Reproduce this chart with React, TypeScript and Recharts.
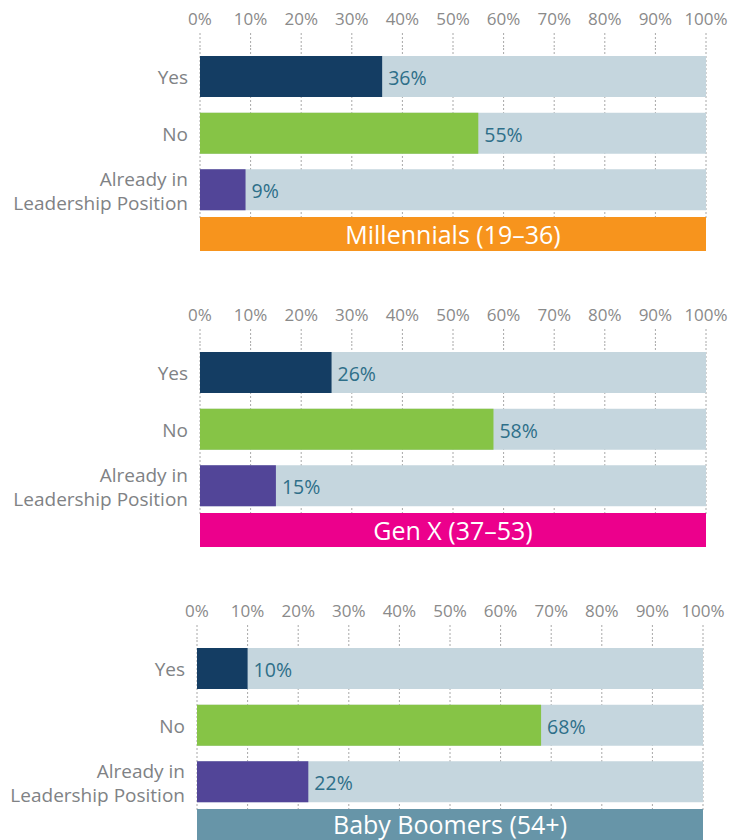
import { BarChart, Bar, XAxis, YAxis, CartesianGrid, Cell, LabelList } from 'recharts';

const categories = ['Yes', 'No', 'Already in\nLeadership Position'];
const millennials = [36, 55, 9];
const genX = [26, 58, 15];
const babyBoomers = [10, 68, 22];
const percentTicks = [0, 10, 20, 30, 40, 50, 60, 70, 80, 90, 100];
const groupTitles = ['Millennials (19–36)', 'Gen X (37–53)', 'Baby Boomers (54+)'];

const barColors = ['#143d63', '#86c446', '#524598'];
const FONT = '"Open Sans", "Noto Sans", sans-serif';
const AXIS_H = 50;
const PLOT_H = 170;

function CategoryTick(props: any) {
  const { x, y, payload } = props;
  const lines = String(payload.value).split('\n');
  const lineH = 24;
  const start = -((lines.length - 1) * lineH) / 2 + 1;
  return (
    <text x={x} y={y} textAnchor="end" fill="#808285" fontSize={19} fontFamily={FONT}>
      {lines.map((l, i) => (
        <tspan key={i} x={x} dy={i === 0 ? start : lineH} dominantBaseline="central">
          {l}
        </tspan>
      ))}
    </text>
  );
}

function ValueLabel(props: any) {
  const { x, y, width, height, value } = props;
  return (
    <text
      x={x + width + 6}
      y={y + height / 2 + 1}
      fill="#2e6f89"
      fontSize={19.5}
      fontFamily={FONT}
      dominantBaseline="central"
    >
      {value}%
    </text>
  );
}

type PanelProps = {
  values: number[];
  title: string;
  bannerColor: string;
  barTop: number;
  left: number;
  right: number;
  bannerTop: number;
  bannerH: number;
};

function Panel({ values, title, bannerColor, barTop, left, right, bannerTop, bannerH }: PanelProps) {
  const data = categories.map((c, i) => ({ name: c, value: values[i] }));
  const chartTop = barTop - 7.8 - AXIS_H;
  return (
    <>
      <div style={{ position: 'absolute', top: chartTop, left: 0 }}>
        <BarChart
          width={729}
          height={AXIS_H + PLOT_H}
          data={data}
          layout="vertical"
          margin={{ top: 0, right: 729 - right, left: 0, bottom: 0 }}
          barSize={41}
        >
          <CartesianGrid horizontal={false} stroke="#a8a8a8" strokeDasharray="2 2" />
          <XAxis
            type="number"
            orientation="top"
            height={AXIS_H}
            domain={[0, 100]}
            ticks={percentTicks}
            tickFormatter={(v) => `${v}%`}
            axisLine={false}
            tickLine={{ stroke: '#a8a8a8', strokeDasharray: '2 2' }}
            tickSize={15}
            tickMargin={8}
            tick={{ fill: '#8a8a8a', fontSize: 17, fontFamily: FONT }}
            interval={0}
          />
          <YAxis
            type="category"
            dataKey="name"
            width={left}
            axisLine={false}
            tickLine={false}
            tickSize={0}
            tickMargin={12}
            tick={<CategoryTick />}
            interval={0}
          />
          <Bar dataKey="value" isAnimationActive={false} background={{ fill: '#c5d6de' }}>
            {data.map((_, i) => (
              <Cell key={i} fill={barColors[i]} />
            ))}
            <LabelList dataKey="value" content={<ValueLabel />} />
          </Bar>
        </BarChart>
      </div>
      <div
        style={{
          position: 'absolute',
          top: bannerTop,
          left,
          width: right - left,
          height: bannerH,
          background: bannerColor,
          color: '#ffffff',
          fontFamily: FONT,
          fontSize: 25,
          lineHeight: `${bannerH}px`,
          textAlign: 'center',
          whiteSpace: 'nowrap',
        }}
      >
        {title}
      </div>
    </>
  );
}

export default function App() {
  return (
    <div
      style={{
        position: 'absolute',
        top: 0,
        left: 0,
        width: 729,
        height: 840,
        overflow: 'hidden',
        background: '#ffffff',
      }}
    >
      <Panel values={millennials} title={groupTitles[0]} bannerColor="#f7941d" barTop={56} left={200} right={706} bannerTop={217} bannerH={34} />
      <Panel values={genX} title={groupTitles[1]} bannerColor="#ec008c" barTop={352} left={200} right={706} bannerTop={513} bannerH={34} />
      <Panel values={babyBoomers} title={groupTitles[2]} bannerColor="#6795a8" barTop={648} left={197} right={703} bannerTop={809} bannerH={31} />
    </div>
  );
}
